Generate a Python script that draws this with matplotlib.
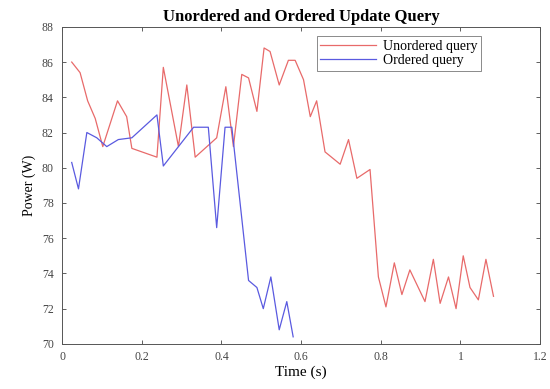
import matplotlib
matplotlib.use("Agg")
import matplotlib.pyplot as plt

# Unordered query (red)
t_unord = [0.024, 0.045, 0.064, 0.083, 0.102, 0.139, 0.162, 0.175, 0.238, 0.254,
           0.292, 0.313, 0.334, 0.388, 0.411, 0.430, 0.451, 0.468, 0.489, 0.507,
           0.522, 0.545, 0.568, 0.585, 0.606, 0.623, 0.639, 0.660, 0.698, 0.719,
           0.740, 0.773, 0.794, 0.813, 0.834, 0.853, 0.873, 0.911, 0.932, 0.949,
           0.970, 0.989, 1.007, 1.024, 1.045, 1.064, 1.083]
p_unord = [86.0, 85.4, 83.8, 82.8, 81.2, 83.8, 82.9, 81.1, 80.6, 85.7,
           81.2, 84.7, 80.6, 81.7, 84.6, 81.2, 85.3, 85.1, 83.2, 86.8,
           86.6, 84.7, 86.1, 86.1, 85.0, 82.9, 83.8, 80.9, 80.2, 81.6,
           79.4, 79.9, 73.8, 72.1, 74.6, 72.8, 74.2, 72.4, 74.8, 72.3,
           73.8, 72.0, 75.0, 73.2, 72.5, 74.8, 72.7]

# Ordered query (blue)
t_ord = [0.024, 0.041, 0.062, 0.087, 0.112, 0.141, 0.175, 0.238, 0.254, 0.292,
         0.330, 0.367, 0.388, 0.409, 0.426, 0.468, 0.489, 0.505, 0.524, 0.545,
         0.564, 0.580]
p_ord = [80.3, 78.8, 82.0, 81.7, 81.2, 81.6, 81.7, 83.0, 80.1, 81.2,
         82.3, 82.3, 76.6, 82.3, 82.3, 73.6, 73.2, 72.0, 73.8, 70.8,
         72.4, 70.4]

plt.rcParams['font.family'] = ['Liberation Serif', 'DejaVu Serif']

fig = plt.figure(figsize=(5.5, 3.89), dpi=100)
ax = fig.add_axes([0.113, 0.116, 0.869, 0.815])
ax.plot(t_unord, p_unord, color='#e86a6a', linewidth=0.9, label='Unordered query')
ax.plot(t_ord, p_ord, color='#5a5ae0', linewidth=0.9, label='Ordered query')

ax.set_xlim(0, 1.2)
ax.set_ylim(70, 88)
ax.set_xticks([0, 0.2, 0.4, 0.6, 0.8, 1, 1.2])
ax.set_xticklabels(['0', '0.2', '0.4', '0.6', '0.8', '1', '1.2'])
ax.set_yticks(range(70, 89, 2))
ax.tick_params(direction='in', top=True, right=True, labelsize=8.5, length=3,
               width=0.6, colors='#444444')
ax.tick_params(axis='y', pad=6)
ax.tick_params(axis='x', pad=5)
for s in ax.spines.values():
    s.set_linewidth(0.7)
    s.set_color('#555555')

ax.set_title('Unordered and Ordered Update Query', fontsize=12, fontweight='bold', pad=4)
ax.set_xlabel('Time (s)', fontsize=11, labelpad=2)
ax.set_ylabel('Power (W)', fontsize=10, labelpad=4)
leg = ax.legend(loc='upper right', bbox_to_anchor=(0.876, 0.97), fontsize=10,
                fancybox=False, edgecolor='#555555', handlelength=4.0,
                borderpad=0.25, labelspacing=0.1, handletextpad=0.5,
                borderaxespad=0)
leg.get_frame().set_linewidth(0.6)

fig.savefig('out.png', dpi=100)
